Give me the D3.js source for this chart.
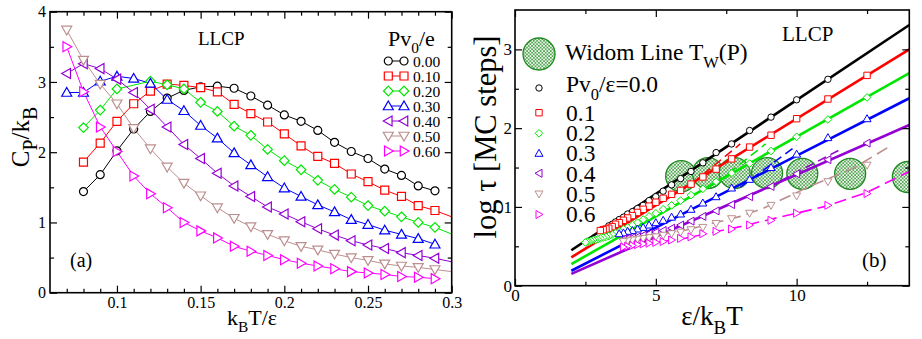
<!DOCTYPE html>
<html><head><meta charset="utf-8">
<script src="https://cdn.jsdelivr.net/npm/d3@7/dist/d3.min.js"></script>
<style>html,body{margin:0;padding:0;background:#fff;}svg{display:block;}text{font-family:"Liberation Serif","Times New Roman",Times,serif;}</style>
</head><body>
<svg id="chart" width="922" height="339"></svg>
<script>
// ---------------- shared series description ----------------
const seriesLabels = ["0.00","0.10","0.20","0.30","0.40","0.50","0.60"];
const seriesLabelsB = ["0.0","0.1","0.2","0.3","0.4","0.5","0.6"];
const seriesColors = ["#000000","#ff0000","#00e600","#0000ff","#9400d3","#bc8f8f","#ff00ff"];
const seriesShapes = ["circle","square","diamond","up","left","down","right"];

// ---------------- panel (a): C_P/k_B vs k_B T/eps ----------------
const aTemp = [0.07,0.08,0.09,0.10,0.11,0.12,0.13,0.14,0.15,0.16,0.17,0.18,0.19,0.20,0.21,0.22,0.23,0.24,0.25,0.26,0.27,0.28,0.29,0.30,0.31];
const aCp00 = [null,1.44,1.68,2.02,2.33,2.58,2.77,2.88,2.93,2.94,2.91,2.80,2.67,2.53,2.44,2.31,2.14,2.01,1.91,1.76,1.67,1.52,1.45,null,null];
const aCp01 = [null,1.86,2.13,2.44,2.69,2.87,2.97,2.95,2.92,2.86,2.68,2.55,2.43,2.26,2.09,1.94,1.84,1.69,1.58,1.46,1.37,1.24,1.17,null,0.99];
const aCp02 = [null,2.35,2.60,2.90,null,3.01,2.96,2.90,2.71,2.58,2.37,2.24,2.04,1.88,1.75,1.60,1.47,1.36,1.24,1.16,1.08,1.00,0.93,null,0.74];
const aCp03 = [2.85,2.85,3.01,3.08,3.05,2.98,2.75,2.59,2.38,2.20,1.99,1.82,1.65,1.49,1.37,1.25,1.15,1.04,0.97,0.89,0.83,0.77,0.69,null,null];
const aCp04 = [3.12,3.26,3.19,3.04,2.85,2.61,2.36,2.11,1.91,1.70,1.52,1.37,1.22,1.12,1.01,0.91,0.82,0.74,0.68,0.63,0.57,0.53,0.49,null,0.39];
const aCp05 = [3.74,3.31,2.97,2.69,2.34,2.05,1.79,1.56,1.38,1.21,1.06,0.94,0.83,0.74,0.66,0.61,0.55,0.50,0.46,0.41,0.38,0.36,0.33,null,0.27];
const aCp06 = [3.50,2.86,2.36,2.01,1.66,1.41,1.21,1.00,0.88,0.78,0.66,0.59,0.53,0.47,0.42,0.38,0.34,0.30,0.28,0.26,0.23,0.22,0.20,null,null];
const aSeries = [aCp00,aCp01,aCp02,aCp03,aCp04,aCp05,aCp06];
const aXDomain = [0.06,0.30];
const aYDomain = [0,4];
const aXMajor = [0.1,0.15,0.2,0.25,0.3];
const aXLabels = ["0.1","0.15","0.2","0.25","0.3"];
const aXMinor = [0.07,0.08,0.09,0.11,0.12,0.13,0.14,0.16,0.17,0.18,0.19,0.21,0.22,0.23,0.24,0.26,0.27,0.28,0.29];
const aYMajor = [0,1,2,3,4];
const aYLabels = ["0","1","2","3","4"];
const aYMinor = [0.5,1.5,2.5,3.5];

// ---------------- panel (b): log tau vs eps/k_B T ----------------
const bInvT = [12.5,11.11,10.0,9.09,8.33,7.69,7.14,6.67,6.25,5.88,5.56,5.26,5.0,4.76,4.55,4.35,4.17,4.0,3.85,3.70,3.57,3.45,3.33,3.23,3.13,3.03,2.94,2.86,2.78,2.70,2.63,2.56,2.50];
const bTau00 = [null,2.62,2.36,2.14,1.97,1.80,1.69,1.56,1.45,1.36,1.28,1.20,1.13,1.08,1.02,0.98,0.94,0.91,0.87,0.84,0.81,0.78,0.76,null,null,null,null,null,null,null,null,null,null];
const bTau01 = [2.67,2.37,2.12,1.91,1.76,1.61,1.48,1.38,1.29,1.21,1.16,1.11,1.06,1.01,0.97,0.93,0.89,0.86,0.83,0.80,0.78,0.75,0.73,0.72,0.71,0.70,null,null,null,null,null,null,null];
const bTau02 = [2.39,2.11,1.89,1.71,1.55,1.43,1.32,1.23,1.15,1.08,1.02,0.97,0.92,0.88,0.84,0.80,0.77,0.74,0.72,0.69,0.67,0.65,0.63,0.62,0.61,0.60,0.59,0.58,0.58,0.57,0.56,0.56,0.55];
const bTau03 = [2.12,1.88,1.67,1.50,1.35,1.24,1.13,1.05,0.97,0.91,0.87,0.83,0.80,0.77,0.74,0.72,0.70,0.69,0.67,0.66,null,null,null,null,null,null,null,null,null,null,null,null,null];
const bTau04 = [1.81,1.60,1.42,1.26,1.13,1.03,0.95,0.88,0.82,0.77,0.73,0.70,0.68,0.66,0.64,0.62,0.61,0.60,0.59,null,null,null,null,null,null,null,null,null,null,null,null,null,null];
const bTau05 = [1.53,1.32,1.14,1.02,0.92,0.85,0.79,0.74,0.71,0.68,0.66,0.64,0.62,0.61,0.60,0.59,0.58,0.57,0.56,null,null,null,null,null,null,null,null,null,null,null,null,null,null];
const bTau06 = [1.17,1.02,0.92,0.83,0.77,0.72,0.69,0.66,0.62,0.60,0.58,0.56,0.55,0.54,0.53,0.52,0.51,0.50,0.49,null,null,null,null,null,null,null,null,null,null,null,null,null,null];
const bSeries = [bTau00,bTau01,bTau02,bTau03,bTau04,bTau05,bTau06];
// solid Arrhenius fits (series 0..4)
const bFitX0 = [2,2,2,2,2];
const bFitY0 = [0.45,0.36,0.275,0.19,0.15];
const bFitX1 = [14,14,14,14,14];
const bFitY1 = [3.31,3.00,2.70,2.38,2.04];
// short dashed fits (series 1..4)
const bDashSeries = [1,2,3,4];
const bDashX0 = [6.3,7.2,8.0,9.0];
const bDashY0 = [1.30,1.32,1.25,1.25];
const bDashX1 = [8.0,8.9,10.0,11.5];
const bDashY1 = [1.80,1.80,1.78,1.72];
// dashed fit curves for 0.5 and 0.6
const bFit05X = [3.85,6.0,8.0,8.8,10.46,12.0,13.36];
const bFit05Y = [0.57,0.70,0.88,0.98,1.26,1.49,1.78];
const bFit06X = [3.85,6.0,8.0,9.04,11.05,12.47,14.0];
const bFit06Y = [0.49,0.60,0.75,0.84,1.01,1.18,1.45];
// Widom line points
const widomX = [5.9,6.85,7.8,8.95,10.2,11.9,13.95];
const widomY = [1.39,1.43,1.43,1.43,1.42,1.42,1.38];
const bXDomain = [0,14];
const bYDomain = [0,3.5];
const bXMajor = [0,5,10];
const bXLabels = ["0","5","10"];
const bXMinor = [2.5,7.5,12.5];
const bYMajor = [0,1,2,3];
const bYLabels = ["0","1","2","3"];
const bYMinor = [0.5,1.5,2.5];

// ---------------- drawing ----------------
const FONT = '"Liberation Serif","Times New Roman",Times,serif';
const svg = d3.select("#chart");
const defs = svg.append("defs");
const pat = defs.append("pattern").attr("id","hatch").attr("width",3.4).attr("height",3.4).attr("patternUnits","userSpaceOnUse");
pat.append("rect").attr("width",3.4).attr("height",3.4).attr("fill","#eef7ee");
pat.append("path").attr("d","M0,0L3.4,3.4M3.4,0L0,3.4").attr("stroke","#3d9a3d").attr("stroke-width",0.75);

function shapePath(shape, r) {
  switch (shape) {
    case "circle": return `M${r},0A${r},${r} 0 1,1 ${-r},0A${r},${r} 0 1,1 ${r},0Z`;
    case "square": return `M${-r},${-r}H${r}V${r}H${-r}Z`;
    case "diamond": { const d = r*1.2; return `M0,${-d}L${d},0L0,${d}L${-d},0Z`; }
    case "up": { const h = r*1.25; return `M0,${-h}L${h},${h*0.75}L${-h},${h*0.75}Z`; }
    case "down": { const h = r*1.25; return `M0,${h}L${h},${-h*0.75}L${-h},${-h*0.75}Z`; }
    case "left": { const h = r*1.25; return `M${-h},0L${h*0.75},${-h}L${h*0.75},${h}Z`; }
    case "right": { const h = r*1.25; return `M${h},0L${-h*0.75},${-h}L${-h*0.75},${h}Z`; }
  }
}
function addMarker(g, x, y, shape, r, color, sw) {
  g.append("path").attr("d", shapePath(shape, r)).attr("transform", `translate(${x},${y})`)
    .attr("fill", "#fff").attr("stroke", color).attr("stroke-width", sw);
}
function addText(parent, x, y, size, parts, opts = {}) {
  const t = parent.append("text").attr("x", x).attr("y", y).style("font-size", size + "px")
    .style("font-family", FONT).attr("text-anchor", opts.anchor || "start").attr("fill", "#000");
  if (opts.transform) t.attr("transform", opts.transform);
  let cur = 0;
  const sh = opts.subShift || size * 0.33;
  const subScale = opts.subScale || 0.7;
  parts.forEach(p => {
    const isSub = typeof p !== "string";
    const shift = isSub ? sh : 0;
    const ts = t.append("tspan").text(isSub ? p.sub : p).attr("dy", shift - cur);
    if (isSub) ts.style("font-size", (size * subScale) + "px");
    cur = shift;
  });
  return t;
}
function frame(g, x, y, o) {
  const [x0, x1] = x.range(), [y0, y1] = y.range();
  const style = sel => {
    sel.select(".domain").remove();
    sel.selectAll("line").attr("stroke", "#000").attr("stroke-width", 1.2);
    sel.selectAll("text").style("font-family", FONT).style("font-size", o.fs + "px").attr("fill", "#000");
    sel.attr("font-family", null).attr("font-size", null);
  };
  g.append("g").attr("transform", `translate(0,${y0})`).call(d3.axisBottom(x).tickValues(o.xMajor).tickFormat((d,i)=>o.xLabels[i]).tickSize(-7).tickPadding(o.xPad)).call(style);
  g.append("g").attr("transform", `translate(0,${y0})`).call(d3.axisBottom(x).tickValues(o.xMinor).tickFormat("").tickSize(-4)).call(style);
  g.append("g").attr("transform", `translate(0,${y1})`).call(d3.axisTop(x).tickValues(o.xMajor).tickFormat("").tickSize(-7)).call(style);
  g.append("g").attr("transform", `translate(0,${y1})`).call(d3.axisTop(x).tickValues(o.xMinor).tickFormat("").tickSize(-4)).call(style);
  g.append("g").attr("transform", `translate(${x0},0)`).call(d3.axisLeft(y).tickValues(o.yMajor).tickFormat((d,i)=>o.yLabels[i]).tickSize(-7).tickPadding(o.yPad)).call(style);
  g.append("g").attr("transform", `translate(${x0},0)`).call(d3.axisLeft(y).tickValues(o.yMinor).tickFormat("").tickSize(-4)).call(style);
  g.append("g").attr("transform", `translate(${x1},0)`).call(d3.axisRight(y).tickValues(o.yMajor).tickFormat("").tickSize(-7)).call(style);
  g.append("g").attr("transform", `translate(${x1},0)`).call(d3.axisRight(y).tickValues(o.yMinor).tickFormat("").tickSize(-4)).call(style);
  g.append("rect").attr("x", x0).attr("y", y1).attr("width", x1 - x0).attr("height", y0 - y1)
    .attr("fill", "none").attr("stroke", "#000").attr("stroke-width", 1.6);
}

// ===== panel (a) =====
const xa = d3.scaleLinear().domain(aXDomain).range([50, 451.7]);
const ya = d3.scaleLinear().domain(aYDomain).range([292.7, 11.7]);
defs.append("clipPath").attr("id","clipA").append("rect").attr("x",50).attr("y",11.7).attr("width",401.7).attr("height",281);
const ga = svg.append("g");
const plotA = ga.append("g").attr("clip-path","url(#clipA)");
const lineA = d3.line().x(d => xa(d[0])).y(d => ya(d[1]));
aSeries.forEach((vals, i) => {
  const pts = aTemp.map((t, j) => [t, vals[j]]).filter(p => p[1] != null);
  plotA.append("path").attr("d", lineA(pts)).attr("fill","none").attr("stroke", seriesColors[i]).attr("stroke-width", 1);
});
aSeries.forEach((vals, i) => {
  const pts = aTemp.map((t, j) => [t, vals[j]]).filter(p => p[1] != null);
  pts.forEach(p => addMarker(plotA, xa(p[0]), ya(p[1]), seriesShapes[i], 4, seriesColors[i], 1.2));
});
frame(ga, xa, ya, {xMajor:aXMajor, xLabels:aXLabels, xMinor:aXMinor, yMajor:aYMajor, yLabels:aYLabels, yMinor:aYMinor, fs:16, xPad:4, yPad:4});
addText(ga, 198, 45, 19, ["LLCP"]);
addText(ga, 70, 267, 20, ["(a)"]);
addText(ga, 252, 325, 22, ["k", {sub:"B"}, "T/ε"], {anchor:"middle", subShift:7});
addText(ga, 0, 0, 25, ["C", {sub:"P"}, "/k", {sub:"B"}], {anchor:"middle", subShift:8, subScale:0.8, transform:"translate(29,137) rotate(-90)"});
// legend (a)
addText(ga, 388, 46, 22, ["Pv", {sub:"0"}, "/e"], {subShift:7});
const legAY = [61, 76, 91, 106, 121, 136, 151];
seriesLabels.forEach((lab, i) => {
  ga.append("line").attr("x1", 388.3).attr("x2", 404).attr("y1", legAY[i]).attr("y2", legAY[i]).attr("stroke", seriesColors[i]).attr("stroke-width", 1);
  addMarker(ga, 388.3, legAY[i], seriesShapes[i], 4, seriesColors[i], 1.2);
  addMarker(ga, 404, legAY[i], seriesShapes[i], 4, seriesColors[i], 1.2);
  addText(ga, 413, legAY[i] + 5.5, 15.5, [lab]);
});

// ===== panel (b) =====
const xb = d3.scaleLinear().domain(bXDomain).range([515, 909.3]);
const yb = d3.scaleLinear().domain(bYDomain).range([285.7, 10]);
defs.append("clipPath").attr("id","clipB").append("rect").attr("x",515).attr("y",10).attr("width",394.3).attr("height",275.7);
const gb = svg.append("g");
const plotB = gb.append("g").attr("clip-path","url(#clipB)");
widomX.forEach((wx, i) => {
  plotB.append("circle").attr("cx", xb(wx)).attr("cy", yb(widomY[i])).attr("r", 15.5)
    .attr("fill", "url(#hatch)").attr("stroke", "#1f8a1f").attr("stroke-width", 1.3);
});
bFitX0.forEach((x0, i) => {
  plotB.append("line").attr("x1", xb(x0)).attr("y1", yb(bFitY0[i])).attr("x2", xb(bFitX1[i])).attr("y2", yb(bFitY1[i]))
    .attr("stroke", seriesColors[i]).attr("stroke-width", 2.6);
});
bDashSeries.forEach((s, k) => {
  plotB.append("line").attr("x1", xb(bDashX0[k])).attr("y1", yb(bDashY0[k])).attr("x2", xb(bDashX1[k])).attr("y2", yb(bDashY1[k]))
    .attr("stroke", seriesColors[s]).attr("stroke-width", 1.5).attr("stroke-dasharray", "9,5");
});
const lineB = d3.line().x(d => xb(d[0])).y(d => yb(d[1]));
[[bFit05X, bFit05Y, 5], [bFit06X, bFit06Y, 6]].forEach(([fx, fy, s]) => {
  plotB.append("path").attr("d", lineB(fx.map((x, j) => [x, fy[j]]))).attr("fill", "none")
    .attr("stroke", seriesColors[s]).attr("stroke-width", 1.6).attr("stroke-dasharray", "12,6");
});
bSeries.forEach((vals, i) => {
  bInvT.forEach((x, j) => {
    if (vals[j] != null) addMarker(plotB, xb(x), yb(vals[j]), seriesShapes[i], 3.2, seriesColors[i], 1);
  });
});
frame(gb, xb, yb, {xMajor:bXMajor, xLabels:bXLabels, xMinor:bXMinor, yMajor:bYMajor, yLabels:bYLabels, yMinor:bYMinor, fs:17, xPad:3, yPad:3});
addText(gb, 782, 41, 21, ["LLCP"]);
addText(gb, 862, 267, 21, ["(b)"]);
addText(gb, 712, 325, 27, ["ε/k", {sub:"B"}, "T"], {anchor:"middle", subShift:9});
addText(gb, 0, 0, 30.5, ["log τ [MC steps]"], {anchor:"middle", transform:"translate(496,137) rotate(-90)"});
// legend (b)
gb.append("circle").attr("cx", 539).attr("cy", 54).attr("r", 16).attr("fill", "url(#hatch)").attr("stroke", "#1f8a1f").attr("stroke-width", 1.3);
addText(gb, 565, 60, 23.5, ["Widom Line T", {sub:"W"}, "(P)"], {subShift:8});
const legBY = [88, 112.7, 133.3, 153.3, 173.3, 194, 214.5];
const legBBase = [91.5, 120.7, 140.7, 161, 181.5, 201.7, 222];
seriesLabelsB.forEach((lab, i) => {
  addMarker(gb, 539, legBY[i], seriesShapes[i], 3.2, seriesColors[i], 1);
  if (i === 0) addText(gb, 566, legBBase[i], 23.5, ["Pv", {sub:"0"}, "/ε=" + lab], {subShift:8});
  else addText(gb, 566, legBBase[i], 23.5, [lab]);
});
</script>
</body></html>
